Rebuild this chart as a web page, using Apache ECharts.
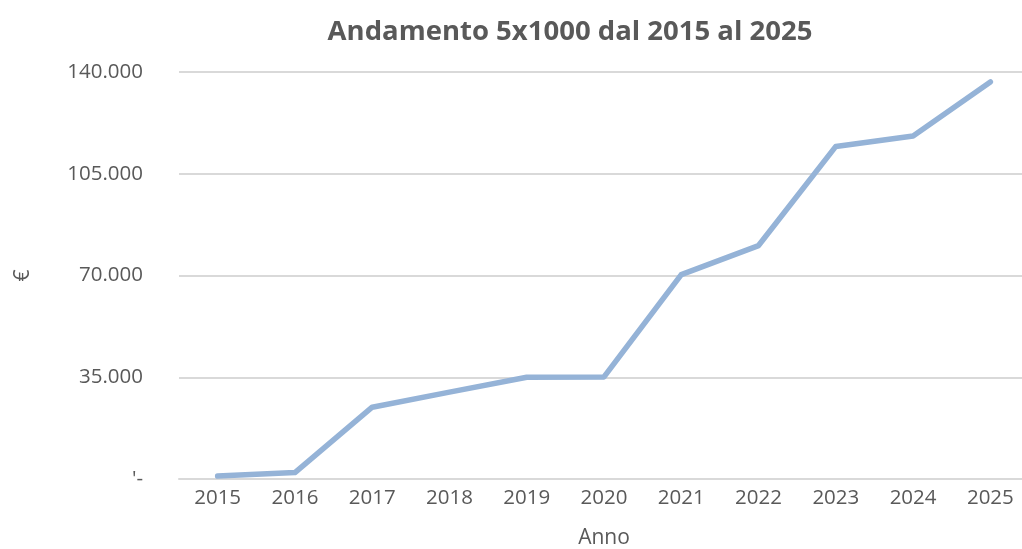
<!DOCTYPE html>
<html>
<head>
<meta charset="utf-8">
<script src="https://cdn.jsdelivr.net/npm/echarts@6/dist/echarts.min.js"></script>
<style>
  html, body { margin: 0; padding: 0; background: #fff; }
  #chart { width: 1022px; height: 549px; }
</style>
</head>
<body>
<div id="chart"></div>
<script>
// anni sull'asse X
const years = ['2015', '2016', '2017', '2018', '2019', '2020', '2021', '2022', '2023', '2024', '2025']
// importi 5x1000 (€)
const amounts = [1000, 2200, 24700, 29900, 35000, 35100, 70300, 80300, 114400, 118000, 136600]
// etichette asse Y
const yTicks = [0, 35000, 70000, 105000, 140000]
const yTickLabels = ["'-", '35.000', '70.000', '105.000', '140.000']

const textColor = '#595959'
const font = 'Open Sans'

const chart = echarts.init(document.getElementById('chart'))
chart.setOption({
  animation: false,
  title: {
    text: 'Andamento 5x1000 dal 2015 al 2025',
    left: 565,
    textAlign: 'center',
    top: 13,
    textStyle: { color: textColor, fontFamily: font, fontSize: 27.5, fontWeight: 'bold' }
  },
  grid: { left: 179, top: 72, width: 850, height: 407, containLabel: false, outerBoundsMode: 'none' },
  xAxis: {
    type: 'category',
    data: years,
    boundaryGap: true,
    name: 'Anno',
    nameLocation: 'middle',
    nameGap: 49,
    nameTextStyle: { color: textColor, fontFamily: font, fontSize: 21 },
    axisLine: { lineStyle: { color: '#d9d9d9', width: 2 } },
    axisTick: { show: false },
    axisLabel: { color: textColor, fontFamily: font, fontSize: 20.5, margin: 9 }
  },
  yAxis: {
    type: 'value',
    min: yTicks[0],
    max: yTicks[yTicks.length - 1],
    interval: yTicks[1] - yTicks[0],
    name: '€',
    nameLocation: 'middle',
    nameGap: 145,
    nameRotate: 90,
    nameTextStyle: { color: textColor, fontFamily: font, fontSize: 21 },
    axisLine: { show: false },
    axisTick: { show: false },
    splitLine: { lineStyle: { color: '#d9d9d9', width: 2 } },
    axisLabel: {
      color: textColor,
      fontFamily: font,
      fontSize: 20.5,
      margin: 36,
      formatter: function (v) {
        const i = yTicks.indexOf(v)
        return i >= 0 ? yTickLabels[i] : ''
      }
    }
  },
  series: [{
    type: 'line',
    data: amounts,
    symbol: 'none',
    lineStyle: { color: '#95b3d7', width: 5.5, cap: 'round', join: 'round' }
  }]
})
</script>
</body>
</html>
